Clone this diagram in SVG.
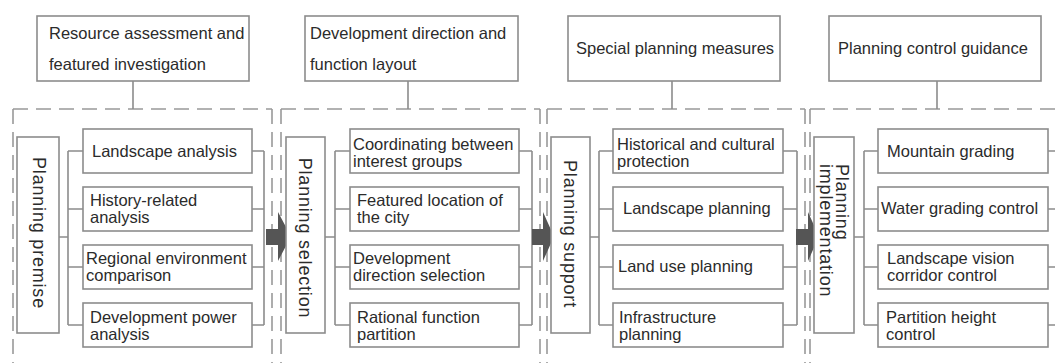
<svg xmlns="http://www.w3.org/2000/svg" width="1055" height="363" viewBox="0 0 1055 363">
<style>
.box{fill:#fff;stroke:#8c8c8c;stroke-width:1.6}
.t{font-family:"Liberation Sans",Arial,sans-serif;font-size:16.5px;fill:#2b2b2b}
.v{font-family:"Liberation Sans",Arial,sans-serif;font-size:18px;fill:#2b2b2b;letter-spacing:0.8px}
.ln{fill:none;stroke:#8c8c8c;stroke-width:1.6}
.dash{fill:none;stroke:#999;stroke-width:1.6;stroke-dasharray:15 8}
.arr{fill:#555}
</style>
<rect width="1055" height="363" fill="#fff"/>
<g id="containers">
<path class="dash" d="M13,109 H272 M13,109 V363 M272,109 V363"/>
<path class="dash" d="M281,109 H540 M281,109 V363 M540,109 V363"/>
<path class="dash" d="M547,109 H805 M547,109 V363 M805,109 V363"/>
<path class="dash" d="M810,109 H1055 M810,109 V363"/>
</g>
<g id="connectors">
<path class="ln" d="M133,81 V109 M408,81 V109 M672,81 V109 M937,81 V109"/>
<path class="ln" d="M59,237 H68 M68,151 V325 M68,151 H83 M68,209 H83 M68,267 H83 M68,325 H83"/>
<path class="ln" d="M252,151 H264 M252,209 H264 M252,267 H264 M252,325 H264 M264,151 V325"/>
<path class="ln" d="M325,237 H335 M335,151 V325 M335,151 H350 M335,209 H350 M335,267 H350 M335,325 H350"/>
<path class="ln" d="M519,151 H532 M519,209 H532 M519,267 H532 M519,325 H532 M532,151 V325"/>
<path class="ln" d="M590,237 H599 M599,151 V325 M599,151 H613 M599,209 H613 M599,267 H613 M599,325 H613"/>
<path class="ln" d="M783,151 H797 M783,209 H797 M783,267 H797 M783,325 H797 M797,151 V325"/>
<path class="ln" d="M854,237 H864 M864,151 V325 M864,151 H878 M864,209 H878 M864,267 H878 M864,325 H878"/>
<path class="ln" d="M1048,151 H1055 M1048,209 H1055 M1048,267 H1055 M1048,325 H1055"/>
<polygon class="arr" points="266,229 278,229 278,212 291,236.5 278,261 278,245 266,245"/>
<polygon class="arr" points="532,229 543,229 543,212 554,236.5 543,261 543,245 532,245"/>
<polygon class="arr" points="796,229 808,229 808,212 819,236.5 808,261 808,245 796,245"/>
</g>
<g id="top1"><rect class="box" x="37" y="16" width="212" height="65"/><text class="t" x="49" y="39">Resource assessment and</text><text class="t" x="49" y="70">featured investigation</text></g>
<g id="top2"><rect class="box" x="305" y="16" width="213" height="65"/><text class="t" x="310" y="39">Development direction and</text><text class="t" x="310" y="70">function layout</text></g>
<g id="top3"><rect class="box" x="568" y="16" width="212" height="65"/><text class="t" x="576" y="54">Special planning measures</text></g>
<g id="top4"><rect class="box" x="829" y="16" width="212" height="65"/><text class="t" x="838" y="54">Planning control guidance</text></g>
<g id="side1"><rect class="box" x="17" y="137" width="42" height="196"/><text class="v" transform="translate(33,233) rotate(90)" text-anchor="middle">Planning premise</text></g>
<g id="side2"><rect class="box" x="286" y="137" width="39" height="196"/><text class="v" transform="translate(299,238) rotate(90)" text-anchor="middle">Planning selection</text></g>
<g id="side3"><rect class="box" x="551" y="137" width="39" height="196"/><text class="v" transform="translate(564,234) rotate(90)" text-anchor="middle">Planning support</text></g>
<g id="side4"><rect class="box" x="814" y="137" width="40" height="196"/><text class="v" transform="translate(836,164) rotate(90)">Planning</text><text class="v" transform="translate(820,164) rotate(90)">implementation</text></g>
<g id="c1a"><rect class="box" x="83" y="129" width="169" height="44"/><text class="t" x="92" y="157">Landscape analysis</text></g>
<g id="c1b"><rect class="box" x="83" y="187" width="169" height="44"/><text class="t" x="90" y="206">History-related</text><text class="t" x="90" y="223">analysis</text></g>
<g id="c1c"><rect class="box" x="83" y="245" width="169" height="44"/><text class="t" x="86" y="264">Regional environment</text><text class="t" x="86" y="281">comparison</text></g>
<g id="c1d"><rect class="box" x="83" y="303" width="169" height="44"/><text class="t" x="90" y="323">Development power</text><text class="t" x="90" y="340">analysis</text></g>
<g id="c2a"><rect class="box" x="350" y="129" width="169" height="44"/><text class="t" x="353" y="150">Coordinating between</text><text class="t" x="353" y="167">interest groups</text></g>
<g id="c2b"><rect class="box" x="350" y="187" width="169" height="44"/><text class="t" x="357" y="206">Featured location of</text><text class="t" x="357" y="223">the city</text></g>
<g id="c2c"><rect class="box" x="350" y="245" width="169" height="44"/><text class="t" x="353" y="264">Development</text><text class="t" x="353" y="281">direction selection</text></g>
<g id="c2d"><rect class="box" x="350" y="303" width="169" height="44"/><text class="t" x="357" y="323">Rational function</text><text class="t" x="357" y="340">partition</text></g>
<g id="c3a"><rect class="box" x="613" y="129" width="170" height="44"/><text class="t" x="617" y="150">Historical and cultural</text><text class="t" x="617" y="167">protection</text></g>
<g id="c3b"><rect class="box" x="613" y="187" width="170" height="44"/><text class="t" x="623" y="214">Landscape planning</text></g>
<g id="c3c"><rect class="box" x="613" y="245" width="170" height="44"/><text class="t" x="618" y="272">Land use planning</text></g>
<g id="c3d"><rect class="box" x="613" y="303" width="170" height="44"/><text class="t" x="619" y="323">Infrastructure</text><text class="t" x="619" y="340">planning</text></g>
<g id="c4a"><rect class="box" x="878" y="129" width="170" height="44"/><text class="t" x="887" y="157">Mountain grading</text></g>
<g id="c4b"><rect class="box" x="878" y="187" width="170" height="44"/><text class="t" x="881" y="214">Water grading control</text></g>
<g id="c4c"><rect class="box" x="878" y="245" width="170" height="44"/><text class="t" x="887" y="264">Landscape vision</text><text class="t" x="887" y="281">corridor control</text></g>
<g id="c4d"><rect class="box" x="878" y="303" width="170" height="44"/><text class="t" x="886" y="323">Partition height</text><text class="t" x="886" y="340">control</text></g>
</svg>
